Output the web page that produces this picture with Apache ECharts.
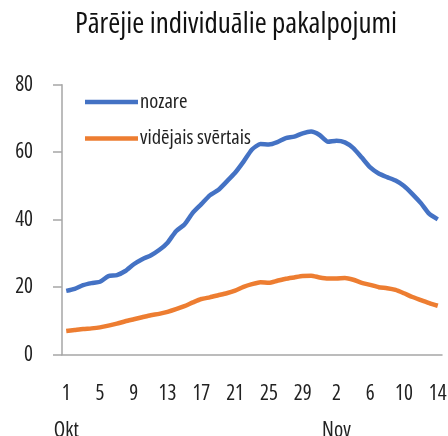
<!DOCTYPE html>
<html>
<head>
<meta charset="utf-8">
<script src="https://cdn.jsdelivr.net/npm/echarts@6/dist/echarts.min.js"></script>
<style>
  html, body { margin: 0; padding: 0; background: #fff; }
  #chart { width: 448px; height: 436px; }
</style>
</head>
<body>
<div id="chart"></div>
<script>
// Daily values, 1 October – 14 November
const days = [1,2,3,4,5,6,7,8,9,10,11,12,13,14,15,16,17,18,19,20,21,22,23,24,25,26,27,28,29,30,31,
              1,2,3,4,5,6,7,8,9,10,11,12,13,14];
const months = ['Okt','Okt','Okt','Okt','Okt','Okt','Okt','Okt','Okt','Okt','Okt','Okt','Okt','Okt','Okt','Okt',
                'Okt','Okt','Okt','Okt','Okt','Okt','Okt','Okt','Okt','Okt','Okt','Okt','Okt','Okt','Okt',
                'Nov','Nov','Nov','Nov','Nov','Nov','Nov','Nov','Nov','Nov','Nov','Nov','Nov','Nov'];
const nozare = [18.9,19.5,20.6,21.2,21.6,23.3,23.6,24.8,26.8,28.3,29.4,31.0,33.2,36.6,38.6,42.1,
                44.6,47.2,48.8,51.3,53.9,57.2,60.8,62.4,62.3,63.0,64.2,64.6,65.6,66.1,65.1,
                63.1,63.4,62.9,61.2,58.4,55.5,53.7,52.6,51.6,50.0,47.6,44.9,41.7,40.1];
const videjais = [7.0,7.3,7.6,7.8,8.1,8.6,9.2,9.9,10.5,11.1,11.7,12.1,12.7,13.5,14.4,15.5,
                  16.5,17.0,17.6,18.2,19.0,20.1,20.9,21.5,21.3,21.9,22.5,22.9,23.3,23.4,22.9,
                  22.6,22.6,22.7,22.2,21.3,20.7,20.0,19.7,19.2,18.2,17.1,16.2,15.3,14.5];
const yTicks = [0, 20, 40, 60, 80];

// Narrow humanist face: Open Sans at its condensed width
const FONT = '"Open Sans", sans-serif';
const STRETCH = 'condensed';
const categories = days.map((d, i) => months[i] + ' ' + d);

const chart = echarts.init(document.getElementById('chart'));
chart.setOption({
  animation: false,
  title: {
    text: 'Pārējie individuālie pakalpojumi',
    left: 70,
    top: 5,
    textStyle: { fontFamily: FONT, fontStyle: STRETCH, fontSize: 29, fontWeight: 'normal', color: '#111' }
  },
  legend: {
    orient: 'vertical',
    left: 80,
    top: 85,
    icon: 'rect',
    itemWidth: 53,
    itemHeight: 4.5,
    itemGap: 12.6,
    textStyle: { fontFamily: FONT, fontStyle: STRETCH, fontSize: 20.5, lineHeight: 24, color: '#222', padding: [0, 0, 0, -3] },
    data: ['nozare', 'vidējais svērtais']
  },
  grid: { left: 62, right: 6, top: 84.7, bottom: 81.3, containLabel: false, outerBoundsMode: 'none' },
  xAxis: {
    type: 'category',
    data: categories,
    boundaryGap: true,
    axisLine: { lineStyle: { color: '#a6a6a6', width: 1.5 } },
    axisTick: { show: false },
    axisLabel: {
      interval: 3,
      margin: 20.5,
      fontFamily: FONT,
      fontStyle: STRETCH,
      fontSize: 21,
      lineHeight: 37,
      color: '#222',
      formatter: (value, idx) => {
        const d = days[idx];
        // the month name goes under the first labelled day of each month
        const showMonth = idx === 0 || months[idx] !== months[idx - 4];
        return showMonth ? d + '\n' + months[idx] : String(d);
      }
    }
  },
  yAxis: {
    type: 'value',
    min: yTicks[0],
    max: yTicks[yTicks.length - 1],
    interval: 20,
    splitLine: { show: false },
    axisLine: { show: true, lineStyle: { color: '#a6a6a6', width: 1.5 } },
    axisTick: { show: true, length: 9, lineStyle: { color: '#a6a6a6', width: 1.5 } },
    axisLabel: { margin: 29, fontFamily: FONT, fontStyle: STRETCH, fontSize: 21, color: '#222' }
  },
  series: [
    {
      name: 'nozare',
      type: 'line',
      data: nozare,
      showSymbol: false,
      smooth: 0.2,
      lineStyle: { color: '#4472C4', width: 4.5 },
      itemStyle: { color: '#4472C4' }
    },
    {
      name: 'vidējais svērtais',
      type: 'line',
      data: videjais,
      showSymbol: false,
      smooth: 0.2,
      lineStyle: { color: '#ED7D31', width: 4.5 },
      itemStyle: { color: '#ED7D31' }
    }
  ]
});
</script>
</body>
</html>
